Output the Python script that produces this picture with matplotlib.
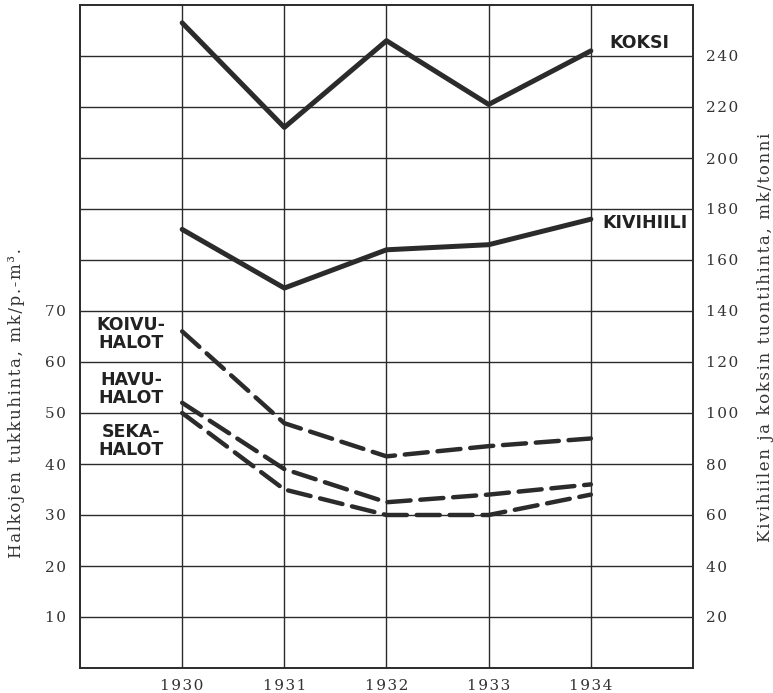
import numpy as np
import matplotlib
matplotlib.use("Agg")
import matplotlib.pyplot as plt

# data
years = [1930, 1931, 1932, 1933, 1934]

# right axis, mk/tonni
koksi = [253, 212, 246, 221, 242]
kivihiili = [172, 149, 164, 166, 176]

# left axis, mk/p.-m3
koivuhalot = [66, 48, 41.5, 43.5, 45]
havuhalot = [52, 39, 32.5, 34, 36]
sekahalot = [50, 35, 30, 30, 34]

left_ticks = [10, 20, 30, 40, 50, 60, 70]
right_ticks = [20, 40, 60, 80, 100, 120, 140, 160, 180, 200, 220, 240]

ink = "#2b2b2b"
serif = "DejaVu Serif"


def spaced(s):
    # old print style letter spacing
    return "\u200a".join(s)


fig = plt.figure(figsize=(7.73, 6.93), dpi=100)
ax = fig.add_axes([80 / 773, 25 / 693, 613 / 773, 663 / 693])
ax2 = ax.twinx()

ax.set_xlim(1929, 1935)
ax.set_ylim(0, 130)
ax2.set_ylim(0, 260)

# grid
for y in right_ticks:
    ax2.axhline(y, color=ink, lw=1.0, zorder=1)
for x in years:
    ax.axvline(x, color=ink, lw=1.0, zorder=1)
for sp in list(ax.spines.values()) + list(ax2.spines.values()):
    sp.set_color(ink)
    sp.set_linewidth(1.2)

tick_font = dict(fontfamily=serif, fontsize=11, color="#333333")
ax.set_xticks(years)
ax.set_xticklabels([spaced(str(y)) for y in years], **tick_font)
ax.set_yticks(left_ticks)
ax.set_yticklabels([spaced(str(v)) for v in left_ticks], **tick_font)
ax2.set_yticks(right_ticks)
ax2.set_yticklabels([spaced(str(v)) for v in right_ticks], **tick_font)
ax.tick_params(axis="x", length=0, pad=8)
ax.tick_params(axis="y", length=0, pad=10)
ax2.tick_params(axis="y", length=0, pad=9)

# solid lines, coal and coke
ax2.plot(years, koksi, color=ink, lw=3.6, solid_capstyle="round", zorder=3)
ax2.plot(years, kivihiili, color=ink, lw=3.6, solid_capstyle="round", zorder=3)

# dashed lines, firewood
dash = (0, (5.2, 2.2))
for vals in [koivuhalot, havuhalot, sekahalot]:
    ax.plot(years, vals, color=ink, lw=3.2, linestyle=dash, dash_capstyle="round", zorder=3)

lab = dict(fontfamily="DejaVu Sans", fontweight="bold", fontsize=12.5, color="#222222",
           ha="center", va="center", zorder=4)
ax2.text(1934.48, 245, "KOKSI", **lab)
ax2.text(1934.53, 174.5, "KIVIHIILI", **lab)
ax.text(1929.5, 65.5, "KOIVU-\nHALOT", linespacing=1.0, **lab)
ax.text(1929.5, 54.7, "HAVU-\nHALOT", linespacing=1.0, **lab)
ax.text(1929.5, 44.5, "SEKA-\nHALOT", linespacing=1.0, **lab)

fig.text(17 / 773, 1 - 403 / 693, spaced("Halkojen tukkuhinta, mk/p.-m³."), rotation=90,
         ha="center", va="center", fontfamily=serif, fontsize=12, color="#333333")
fig.text(765 / 773, 1 - 337 / 693, spaced("Kivihiilen ja koksin tuontihinta, mk/tonni"), rotation=90,
         ha="center", va="center", fontfamily=serif, fontsize=12, color="#333333")

fig.savefig("out.png", dpi=100)
